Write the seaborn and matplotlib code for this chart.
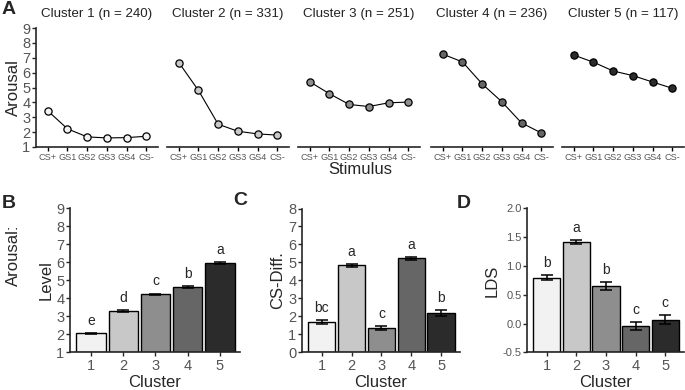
import matplotlib
matplotlib.use('Agg')
import matplotlib.pyplot as plt
import numpy as np
import pandas as pd
import seaborn as sns

# данные: средние оценки arousal по стимулам для каждого кластера
stimuli = ['CS+', 'GS1', 'GS2', 'GS3', 'GS4', 'CS-']
clusters = ['1', '2', '3', '4', '5']
cluster_n = [240, 331, 251, 236, 117]

arousal_c1 = [3.43, 2.22, 1.68, 1.61, 1.63, 1.72]
arousal_c2 = [6.68, 4.80, 2.53, 2.06, 1.88, 1.80]
arousal_c3 = [5.38, 4.58, 3.86, 3.72, 3.97, 4.02]
arousal_c4 = [7.24, 6.72, 5.24, 4.04, 2.62, 1.95]
arousal_c5 = [7.18, 6.70, 6.11, 5.80, 5.37, 4.95]
arousal_se = [0.08, 0.08, 0.07, 0.08, 0.12]

level_mean = [2.05, 3.29, 4.23, 4.62, 5.98]
level_se = [0.04, 0.04, 0.04, 0.05, 0.06]
level_letters = ['e', 'd', 'c', 'b', 'a']

csdiff_mean = [1.70, 4.83, 1.35, 5.22, 2.20]
csdiff_se = [0.10, 0.06, 0.10, 0.06, 0.17]
csdiff_letters = ['bc', 'a', 'c', 'a', 'b']

lds_mean = [0.80, 1.42, 0.65, -0.05, 0.07]
lds_se = [0.05, 0.04, 0.07, 0.07, 0.08]
lds_letters = ['b', 'a', 'b', 'c', 'c']

palette = ['#f2f2f2', '#c8c8c8', '#8e8e8e', '#666666', '#2b2b2b']

sns.set_style('ticks')
plt.rcParams['font.family'] = ['Liberation Sans', 'DejaVu Sans']
plt.rcParams['axes.linewidth'] = 1.2
plt.rcParams['xtick.major.width'] = 1.0
plt.rcParams['ytick.major.width'] = 1.0
plt.rcParams['xtick.major.size'] = 3
plt.rcParams['ytick.major.size'] = 3

TICK_GRAY = '#555555'

fig = plt.figure(figsize=(6.85, 3.9), dpi=100)
W, H = 685, 390


def px_axes(x0, y0, x1, y1):
    '''оси по пиксельным координатам (сверху вниз)'''
    return fig.add_axes([x0 / W, 1 - y1 / H, (x1 - x0) / W, (y1 - y0) / H])


# ---- панель A ----
all_series = [arousal_c1, arousal_c2, arousal_c3, arousal_c4, arousal_c5]
lefts = [36, 167, 298, 431, 562]
for i, (vals, n, left) in enumerate(zip(all_series, cluster_n, lefts)):
    ax = px_axes(left, 28, left + 122, 147)
    df = pd.DataFrame({'stimulus': stimuli, 'arousal': vals})
    ax.errorbar(np.arange(len(stimuli)), vals, yerr=arousal_se[i], fmt='none',
                ecolor='black', elinewidth=1.0, capsize=2, capthick=1.0, zorder=2)
    sns.lineplot(data=df, x='stimulus', y='arousal', sort=False, color='black',
                 linewidth=0.8, marker='o', markersize=5.2, markerfacecolor=palette[i],
                 markeredgecolor='black', markeredgewidth=0.9, ax=ax, zorder=3)
    ax.set_xlim(-0.6, len(stimuli) - 0.4)
    ax.set_ylim(1, 9)
    ax.set_yticks(range(1, 10))
    ax.set_xlabel('')
    ax.set_ylabel('')
    ax.tick_params(axis='x', labelsize=6.6, colors='black', labelcolor=TICK_GRAY, pad=1.5)
    ax.tick_params(axis='y', labelsize=10.5, labelcolor=TICK_GRAY, pad=1)
    ax.set_title(f'Cluster {i + 1} (n = {n})', fontsize=9.6, pad=8, color='#222222')
    if i == 0:
        sns.despine(ax=ax)
        ax.set_ylabel('Arousal', fontsize=12, labelpad=1)
    else:
        sns.despine(ax=ax, left=True)
        ax.set_yticks([])

fig.text(360 / W, 1 - 170 / H, 'Stimulus', fontsize=12, ha='center', va='center')


# ---- панели B, C, D ----
def bar_panel(x0, x1, means, ses, letters, ylim, yticks, ylabel, tick_fs=10.5, fmt=None):
    ax = px_axes(x0, 208.5, x1, 352.3)
    sns.barplot(x=clusters, y=means, hue=clusters, palette=palette, legend=False,
                edgecolor='black', linewidth=1.0, width=0.92, errorbar=None, ax=ax)
    lo = ylim[0]
    # столбики начинаются от нижней границы оси
    for patch, m in zip(ax.patches, means):
        patch.set_y(lo)
        patch.set_height(m - lo)
    xs = np.arange(len(clusters))
    ax.errorbar(xs, means, yerr=ses, fmt='none', ecolor='black',
                elinewidth=1.1, capsize=4, capthick=1.1, zorder=3)
    span = ylim[1] - ylim[0]
    for x, m, s, lab in zip(xs, means, ses, letters):
        ax.text(x, m + s + span * 0.035, lab, ha='center', va='bottom', fontsize=10)
    ax.set_xlim(-0.66, len(clusters) - 0.37)
    ax.set_ylim(*ylim)
    ax.set_yticks(yticks)
    if fmt:
        ax.set_yticklabels([fmt.format(t) for t in yticks])
    ax.tick_params(axis='x', labelsize=10.5, labelcolor=TICK_GRAY, pad=2)
    ax.tick_params(axis='y', labelsize=tick_fs, labelcolor=TICK_GRAY, pad=1)
    ax.set_xlabel('Cluster', fontsize=12, labelpad=1)
    ax.set_ylabel(ylabel, fontsize=12, labelpad=2)
    sns.despine(ax=ax)
    return ax


bar_panel(70, 240, level_mean, level_se, level_letters, (1, 9), range(1, 10), 'Level')
fig.text(13 / W, 1 - 255 / H, 'Arousal:', fontsize=12, rotation=90, ha='center', va='center')
bar_panel(302, 460, csdiff_mean, csdiff_se, csdiff_letters, (0, 8), range(0, 9), 'CS-Diff.')
bar_panel(527, 684, lds_mean, lds_se, lds_letters, (-0.5, 2.0),
          [-0.5, 0.0, 0.5, 1.0, 1.5, 2.0], 'LDS', tick_fs=8, fmt='{:.1f}')

# буквы панелей
for lab, x, y in [('A', 2, 9), ('B', 2, 203), ('C', 233, 201), ('D', 457, 203)]:
    fig.text(x / W, 1 - y / H, lab, fontsize=14, fontweight='bold', ha='left', va='center')

fig.savefig('out.png', dpi=100)
plt.close(fig)
